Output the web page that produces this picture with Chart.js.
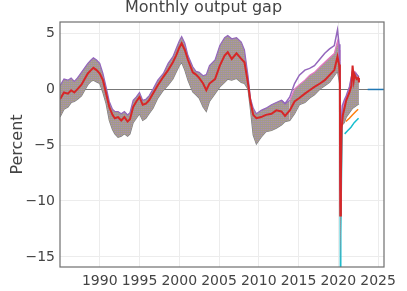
<!DOCTYPE html>
<html>
<head>
<meta charset="utf-8">
<script src="https://cdn.jsdelivr.net/npm/chart.js@4"></script>
<style>
  html, body { margin: 0; padding: 0; background: #fff; }
  #c { display: block; }
</style>
</head>
<body>
<canvas id="c" width="407" height="291"></canvas>
<script>
// ---------------- data ----------------
const chartTitle = "Monthly output gap";
const yAxisTitle = "Percent";
const xTicks = [1990, 1995, 2000, 2005, 2010, 2015, 2020, 2025];
const yTicks = [-15, -10, -5, 0, 5];

// envelope of all vintages (upper / lower edges of the band)
const bandYears = [1985.0,1985.5,1986.0,1986.4,1986.8,1987.2,1987.7,1988.1,1988.5,1988.9,
  1989.2,1989.6,1990.0,1990.4,1990.8,1991.2,1991.6,1991.9,1992.3,1992.7,
  1993.1,1993.5,1993.8,1994.2,1994.6,1995.0,1995.4,1995.8,1996.2,1996.7,
  1997.3,1998.0,1998.6,1999.2,1999.6,2000.0,2000.3,2000.7,2001.1,2001.7,
  2002.1,2002.5,2003.0,2003.4,2003.8,2004.5,2005.1,2005.7,2006.1,2006.6,
  2007.2,2007.8,2008.2,2008.65,2008.95,2009.3,2009.7,2010.3,2010.9,2011.6,
  2012.2,2012.85,2013.3,2013.9,2014.5,2015.1,2015.8,2016.4,2017.0,2017.7,
  2018.3,2018.9,2019.5,2019.9,2020.1,2020.2,2020.25,2020.33,2020.5,2020.75,
  2021.0,2021.4,2021.8,2022.2,2022.6];
const bandTop = [0.3,0.9,0.8,1.0,0.7,1.0,1.5,1.9,2.3,2.6,
  2.8,2.6,2.3,1.4,0.2,-1.1,-1.8,-2.0,-2.0,-2.2,
  -2.0,-2.3,-2.1,-1.0,-0.7,-0.3,-1.0,-0.9,-0.6,0.0,
  0.8,1.4,2.3,2.9,3.6,4.3,4.7,4.1,3.0,2.0,
  1.6,1.5,1.2,1.3,2.1,2.6,3.9,4.6,4.8,4.5,
  4.6,4.2,3.5,1.2,-0.8,-1.7,-2.2,-1.9,-1.7,-1.4,
  -1.2,-1.0,-1.3,-1.0,0.0,0.4,0.8,1.25,1.5,2.0,
  2.4,2.8,3.2,4.3,3.5,2.0,-10.5,-5.0,-1.8,-1.2,
  -0.8,0.0,1.7,1.5,1.0];
const bandBottom = [-2.5,-1.8,-1.6,-1.2,-1.1,-0.9,-0.6,-0.1,0.4,0.7,
  0.8,0.65,0.5,-0.3,-1.3,-2.8,-3.6,-4.0,-4.3,-4.2,
  -4.0,-4.2,-4.0,-3.0,-2.6,-2.2,-2.8,-2.6,-2.2,-1.7,
  -0.8,-0.1,0.35,0.9,1.5,2.1,2.4,1.7,0.8,-0.25,
  -0.5,-0.8,-1.6,-2.0,-1.1,-0.4,0.2,0.6,0.9,0.8,
  0.95,0.6,0.5,0.0,-1.8,-4.1,-4.9,-4.3,-3.8,-3.7,
  -3.5,-3.2,-2.9,-2.8,-2.2,-1.4,-1.2,-0.8,-0.5,0.0,
  0.3,0.6,1.2,1.6,0.8,0.3,-15.9,-13.0,-3.2,-3.0,
  -2.5,-2.1,-1.7,-1.5,-1.3];

// latest vintage (red)
const redYears = [1985.0,1985.5,1986.0,1986.4,1986.8,1987.2,1987.7,1988.1,1988.5,1988.9,
  1989.2,1989.6,1990.0,1990.4,1990.8,1991.2,1991.6,1991.9,1992.3,1992.7,
  1993.1,1993.5,1993.8,1994.2,1994.6,1995.0,1995.4,1995.8,1996.2,1996.7,
  1997.3,1998.0,1998.6,1999.2,1999.6,2000.0,2000.3,2000.7,2001.1,2001.7,
  2002.1,2002.5,2003.0,2003.4,2003.8,2004.5,2005.1,2005.7,2006.1,2006.6,
  2007.2,2007.8,2008.2,2008.65,2008.95,2009.3,2009.7,2010.3,2010.9,2011.6,
  2012.2,2012.85,2013.3,2013.9,2014.5,2015.1,2015.8,2016.4,2017.0,2017.7,
  2018.3,2018.9,2019.5,2019.9,2020.1,2020.2,2020.25,2020.33,2020.42,2020.58,
  2020.75,2021.0,2021.4,2021.65,2021.8,2021.95,2022.05,2022.3,2022.5,2022.6];
const redValues = [-0.9,-0.3,-0.4,-0.1,-0.3,0.0,0.4,0.9,1.4,1.7,
  1.9,1.7,1.4,0.8,-0.4,-1.6,-2.3,-2.6,-2.5,-2.8,
  -2.5,-2.9,-2.7,-1.6,-1.1,-0.7,-1.4,-1.3,-1.0,-0.4,
  0.35,1.1,1.7,2.4,3.0,3.7,4.1,3.5,2.6,1.5,
  1.3,1.0,0.5,-0.1,0.5,0.9,2.1,3.0,3.3,2.7,
  3.2,2.7,2.4,0.5,-1.1,-2.3,-2.6,-2.5,-2.3,-2.2,
  -1.9,-2.0,-2.4,-1.9,-1.1,-0.8,-0.4,-0.1,0.2,0.5,
  0.8,1.25,1.7,2.9,2.2,1.0,-11.3,-8.0,-3.5,-2.3,
  -1.8,-1.0,-0.3,0.3,2.1,0.8,1.3,0.9,1.0,0.6];

// top vintage after 2013 (purple)
const purpleYears = [2012.85,2013.3,2013.9,2014.5,2015.1,2015.8,2016.4,2017.0,2017.7,2018.3,
  2018.9,2019.5,2019.9,2020.1,2020.2,2020.25,2020.33,2020.5,2020.75,2021.0,
  2021.4,2021.8,2022.2,2022.6];
const purpleValues = [-1.0,-1.3,-0.7,0.5,1.25,1.7,1.85,2.1,2.7,3.2,
  3.6,3.9,5.3,4.0,2.5,-9.0,-4.0,-1.5,-1.0,-0.6,
  0.2,1.6,1.4,1.1];

// short early vintages ending in 2022
const cyanYears = [2020.8,2021.2,2021.6,2022.0,2022.55];
const cyanValues = [-4.0,-3.7,-3.4,-3.0,-2.6];
const orangeYears = [2020.95,2021.4,2021.8,2022.2,2022.5];
const orangeValues = [-2.9,-2.6,-2.3,-2.0,-1.8];

// projection (blue)
const blueYears = [2023.7,2025.75];
const blueValues = [-0.03,-0.03];

// ---------------- styles ----------------
const C = {
  blue: '#1f77b4', orange: '#ff7f0e', green: '#2ca02c', red: '#d62728',
  purple: '#9467bd', brown: '#8c564b', pink: '#e377c2', gray: '#7f7f7f',
  olive: '#bcbd22', cyan: '#17becf'
};
const textColor = '#444';
const fontFamily = '"DejaVu Sans", Verdana, sans-serif';

function makePattern() {
  const tile = document.createElement('canvas');
  tile.width = 2; tile.height = 2;
  const t = tile.getContext('2d');
  const rows = [
    ['#a39490', '#a3a07e'],
    ['#9a96ab', '#b5939f']
  ];
  for (let r = 0; r < 2; r++) for (let c = 0; c < 2; c++) {
    t.fillStyle = rows[r][c];
    t.fillRect(c, r, 1, 1);
  }
  return document.getElementById('c').getContext('2d').createPattern(tile, 'repeat');
}

const zip = (xs, ys) => xs.map((x, i) => ({ x: x, y: ys[i] }));
const line = (label, xs, ys, color, extra) => Object.assign({
  label: label, data: zip(xs, ys), borderColor: color, backgroundColor: color,
  borderWidth: 1.5, pointRadius: 0, tension: 0, fill: false
}, extra || {});

const frame = {
  id: 'frame',
  afterDraw(chart) {
    const a = chart.chartArea, ctx = chart.ctx;
    ctx.save();
    ctx.strokeStyle = '#6f6f6f';
    ctx.lineWidth = 1.2;
    ctx.strokeRect(a.left, a.top, a.right - a.left, a.bottom - a.top);
    ctx.restore();
  }
};

new Chart(document.getElementById('c'), {
  type: 'line',
  data: {
    datasets: [
      line('latest', redYears, redValues, C.red, { borderWidth: 2 }),
      line('proj', blueYears, blueValues, C.blue),
      line('orange', orangeYears, orangeValues, C.orange),
      line('cyan', cyanYears, cyanValues, C.cyan),
      line('purple', purpleYears, purpleValues, C.purple),
      line('bandTop', bandYears, bandTop, C.purple, {
        fill: { target: 6 }, backgroundColor: makePattern(), borderWidth: 1.2,
        segment: { borderColor: (ctx) => ctx.p0.parsed.x >= 2013.9 ? C.pink : C.purple }
      }),
      line('bandBottom', bandYears, bandBottom, C.gray, {
        borderWidth: 1.2,
        segment: { borderColor: (ctx) => (ctx.p0.parsed.x >= 2020.2 && ctx.p0.parsed.x < 2020.4) ? C.cyan : C.gray }
      })
    ]
  },
  plugins: [frame],
  options: {
    responsive: false,
    animation: false,
    devicePixelRatio: 1,
    layout: { padding: { top: 0, right: 0, bottom: 0, left: 0 } },
    plugins: {
      legend: { display: false },
      tooltip: { enabled: false },
      title: {
        display: true, text: chartTitle, color: textColor,
        font: { family: fontFamily, size: 16, weight: 'normal', lineHeight: 1 },
        padding: { top: 0, bottom: 6 }
      }
    },
    scales: {
      x: {
        type: 'linear', min: 1985, max: 2025.75,
        afterBuildTicks: (s) => { s.ticks = xTicks.map(v => ({ value: v })); },
        afterFit: (s) => { s.height = 24; },
        ticks: { autoSkip: false, maxRotation: 0, padding: 6, color: textColor,
          font: { family: fontFamily, size: 14 }, callback: (v) => String(v) },
        grid: { color: '#ececec', lineWidth: 1, drawTicks: false },
        border: { display: false }
      },
      y: {
        type: 'linear', min: -15.9, max: 6,
        afterBuildTicks: (s) => { s.ticks = yTicks.map(v => ({ value: v })); },
        afterFit: (s) => { s.width = 60; },
        ticks: { padding: 5, color: textColor, font: { family: fontFamily, size: 14 },
          callback: (v) => v < 0 ? '\u2212' + Math.abs(v) : String(v) },
        grid: { color: (ctx) => ctx.tick && ctx.tick.value === 0 ? '#777' : '#ececec',
          lineWidth: 1, drawTicks: false },
        border: { display: false },
        title: { display: true, text: yAxisTitle, color: textColor,
          font: { family: fontFamily, size: 16, lineHeight: 1.2 }, padding: { top: 8, bottom: 0 } }
      },
      yRight: {
        type: 'linear', position: 'right', min: -15.9, max: 6,
        afterFit: (s) => { s.width = 23; },
        ticks: { display: false }, grid: { display: false }, border: { display: false }
      }
    }
  }
});
</script>
</body>
</html>
